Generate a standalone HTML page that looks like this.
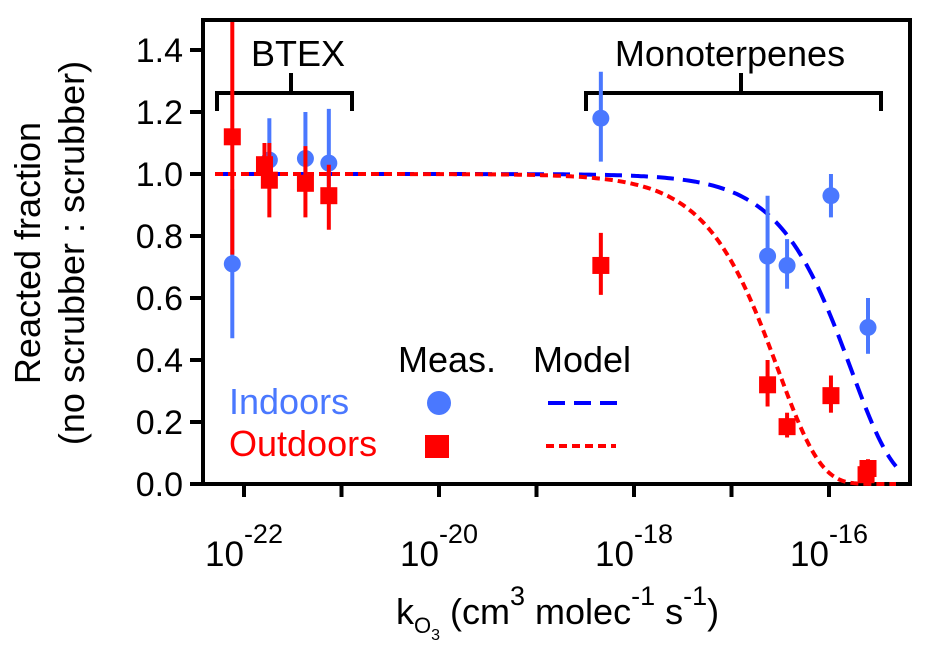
<!DOCTYPE html>
<html><head><meta charset="utf-8"><style>
html,body{margin:0;padding:0;background:#fff;}
svg{display:block;font-family:"Liberation Sans",Arial,sans-serif;}
</style></head><body>
<svg id="chart" width="926" height="659" viewBox="0 0 926 659" xmlns="http://www.w3.org/2000/svg">
<g id="axes"></g>
<g id="marks"></g>
</svg>
<script>
const xTickExps = [-22, -21, -20, -19, -18, -17, -16];
const xLabelExps = [-22, -20, -18, -16];
const yTicks = [0.0, 0.2, 0.4, 0.6, 0.8, 1.0, 1.2, 1.4];
const indoorLogK = [-22.12, -21.74, -21.37, -21.13, -18.34, -16.63, -16.43, -15.98, -15.60];
const indoorVal = [0.71, 1.045, 1.05, 1.035, 1.18, 0.735, 0.705, 0.93, 0.505];
const indoorLo = [0.47, 0.98, 0.96, 0.96, 1.04, 0.55, 0.63, 0.86, 0.42];
const indoorHi = [0.95, 1.18, 1.20, 1.21, 1.33, 0.93, 0.79, 1.00, 0.60];
const outdoorLogK = [-22.12, -21.79, -21.74, -21.37, -21.13, -18.34, -16.63, -16.43, -15.98, -15.60, -15.62];
const outdoorVal = [1.12, 1.03, 0.98, 0.97, 0.93, 0.705, 0.32, 0.185, 0.285, 0.05, 0.03];
const outdoorLo = [0.74, 0.96, 0.86, 0.86, 0.82, 0.61, 0.25, 0.15, 0.23, 0.02, 0.0];
const outdoorHi = [1.50, 1.10, 1.10, 1.09, 1.03, 0.81, 0.40, 0.23, 0.35, 0.08, 0.06];
// model: fraction = exp(-ln2 * k / k50); log10 of k50 for each series
const modelHalfLogK = [-15.93, -16.68];

const X0 = 203, X1 = 910, Y0 = 484, Y1 = 20;
const xPx = e => 829 + (e + 16) * 97.5;
const yPx = v => Y0 - v * 310;
const NS = 'http://www.w3.org/2000/svg';
function mk(tag, attrs, parent) {
  const el = document.createElementNS(NS, tag);
  for (const k in attrs) el.setAttribute(k, attrs[k]);
  parent.appendChild(el);
  return el;
}
const axes = document.getElementById('axes');
const marks = document.getElementById('marks');

const frame = mk('rect', {x: X0, y: Y1, width: X1 - X0, height: Y0 - Y1, fill: 'none', stroke: '#000', 'stroke-width': 4}, axes);



yTicks.forEach(v => {
  const t = mk('line', {x1: 190, x2: X0, y1: yPx(v), y2: yPx(v), stroke: '#000', 'stroke-width': 4}, axes);
  
  
  const l = mk('text', {x: 183, y: yPx(v) + 12, 'text-anchor': 'end', 'font-size': 34}, axes);
  l.textContent = v.toFixed(1);
  
  
});
xTickExps.forEach(e => {
  const t = mk('line', {x1: xPx(e), x2: xPx(e), y1: Y0, y2: 497, stroke: '#000', 'stroke-width': 4}, axes);
  
  
});
xLabelExps.forEach(e => {
  const l = mk('text', {x: xPx(e) - 39, y: 566, 'font-size': 35}, axes);
  
  
  const a = mk('tspan', {}, l); a.textContent = '10';
  const b = mk('tspan', {dy: -23, 'font-size': 27}, l); b.textContent = String(e);
});

const yt = mk('text', {transform: 'translate(40,253) rotate(-90)', 'text-anchor': 'middle', 'font-size': 36}, axes);
yt.textContent = 'Reacted fraction';


const yt2 = mk('text', {transform: 'translate(84,253) rotate(-90)', 'text-anchor': 'middle', 'font-size': 36}, axes);
yt2.textContent = '(no scrubber : scrubber)';


const xt = mk('text', {x: 396, y: 624, 'font-size': 36}, axes);


xt.innerHTML = '<tspan>k</tspan><tspan dy="9" font-size="22">O</tspan><tspan dy="7" font-size="16">3</tspan><tspan dy="-16"> (cm</tspan><tspan dy="-19" font-size="27">3</tspan><tspan dy="19"> molec</tspan><tspan dy="-19" font-size="27">-1</tspan><tspan dy="19"> s</tspan><tspan dy="-19" font-size="27">-1</tspan><tspan dy="19">)</tspan>';

function bracket(name, x1, x2, xs, label, lx) {
  const g = mk('g', {}, axes);
  
  
  mk('path', {d: `M${x1},111 V93 H${x2} V111 M${xs},93 V73`, fill: 'none', stroke: '#000', 'stroke-width': 4}, g);
  const t = mk('text', {x: lx, y: 66, 'text-anchor': 'middle', 'font-size': 36}, g);
  t.textContent = label;
}
bracket('btex-bracket', 217, 352, 291, 'BTEX', 298);
bracket('monoterpenes-bracket', 586, 881, 741, 'Monoterpenes', 730);

function curve(idx, color, dash, width, name) {
  let d = '';
  for (let px = 215; px <= 898; px += 3) {
    const e = -16 + (px - 829) / 97.5;
    const v = Math.exp(-Math.LN2 * Math.pow(10, e - modelHalfLogK[idx]));
    d += (d ? 'L' : 'M') + px + ',' + yPx(v).toFixed(1);
  }
  const p = mk('path', {d, fill: 'none', stroke: color, 'stroke-width': width, 'stroke-dasharray': dash}, marks);
  
  
}
curve(0, '#0000ff', '17 9', 4, 'model-indoors-curve');
curve(1, '#ff0000', '8 5', 4, 'model-outdoors-curve');

const BLUE = '#4a78ff', RED = '#ff0000';
indoorLogK.forEach((e, i) => {
  const b = mk('line', {x1: xPx(e), x2: xPx(e), y1: yPx(indoorLo[i]), y2: yPx(indoorHi[i]), stroke: BLUE, 'stroke-width': 4}, marks);
  
  
});
indoorLogK.forEach((e, i) => {
  const c = mk('circle', {cx: xPx(e), cy: yPx(indoorVal[i]), r: 8.5, fill: BLUE}, marks);
  
  
});
outdoorLogK.forEach((e, i) => {
  const b = mk('line', {x1: xPx(e), x2: xPx(e), y1: yPx(outdoorLo[i]), y2: Math.max(Y1 + 2, yPx(outdoorHi[i])), stroke: RED, 'stroke-width': 4}, marks);
  
  
  const s = mk('rect', {x: xPx(e) - 8.5, y: yPx(outdoorVal[i]) - 8.5, width: 17, height: 17, fill: RED}, marks);
  
  
});

const lg = mk('g', {}, marks);


const lt = (x, y, txt, col, nm) => {
  const t = mk('text', {x, y, 'font-size': 36, fill: col}, lg);
  t.textContent = txt;
  
  
};
lt(398, 372, 'Meas.', '#000', 'legend-header-measured');
lt(533, 372, 'Model', '#000', 'legend-header-model');
lt(229, 414, 'Indoors', BLUE, 'legend-indoors-label');
lt(229, 456, 'Outdoors', RED, 'legend-outdoors-label');
const lc = mk('circle', {cx: 439, cy: 403, r: 12, fill: BLUE}, lg);


const ls = mk('rect', {x: 425, y: 435, width: 24, height: 23, fill: RED}, lg);


const l1 = mk('line', {x1: 548, x2: 618, y1: 403, y2: 403, stroke: '#0000ff', 'stroke-width': 4, 'stroke-dasharray': '17 9'}, lg);


const l2 = mk('line', {x1: 546, x2: 616, y1: 446, y2: 446, stroke: RED, 'stroke-width': 4, 'stroke-dasharray': '8 5'}, lg);


</script>
</body></html>
